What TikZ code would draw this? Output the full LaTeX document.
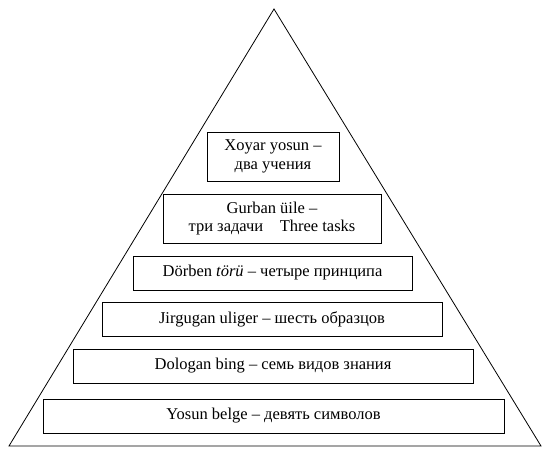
\documentclass[tikz,border=0pt]{standalone}
\usepackage{fontspec}
\setmainfont{Liberation Serif}
\begin{document}
\begin{tikzpicture}[x=1pt,y=-1pt,
  tier/.style={draw, line width=0.8pt, inner sep=0pt, align=center,
    font=\fontsize{16.5}{18.5}\selectfont},
  pyr/.style={draw, line width=0.8pt, line join=miter}]
\useasboundingbox (0,0) rectangle (550,457);
\coordinate (apex) at (274,9);
\coordinate (bl) at (9,446);
\coordinate (br) at (541,446);
\draw[pyr] (apex) -- (bl) -- (br) -- cycle;
\node[tier, minimum width=132pt, minimum height=49pt] (t1) at (273,156.5) {Xoyar yosun –\\два учения};
\node[tier, minimum width=218pt, minimum height=49pt] (t2) at (272,218.5) {Gurban üile –\\три задачи\hspace{1em}Three tasks};
\node[tier, minimum width=279pt, minimum height=34pt] (t3) at (272.5,273) {Dörben \textit{törü} – четыре принципа};
\node[tier, minimum width=340pt, minimum height=34pt] (t4) at (272,319) {Jirgugan uliger – шесть образцов};
\node[tier, minimum width=400pt, minimum height=34pt] (t5) at (273,366) {Dologan bing – семь видов знания};
\node[tier, minimum width=461pt, minimum height=34pt] (t6) at (273.5,416) {Yosun belge – девять символов};
\end{tikzpicture}
\end{document}
